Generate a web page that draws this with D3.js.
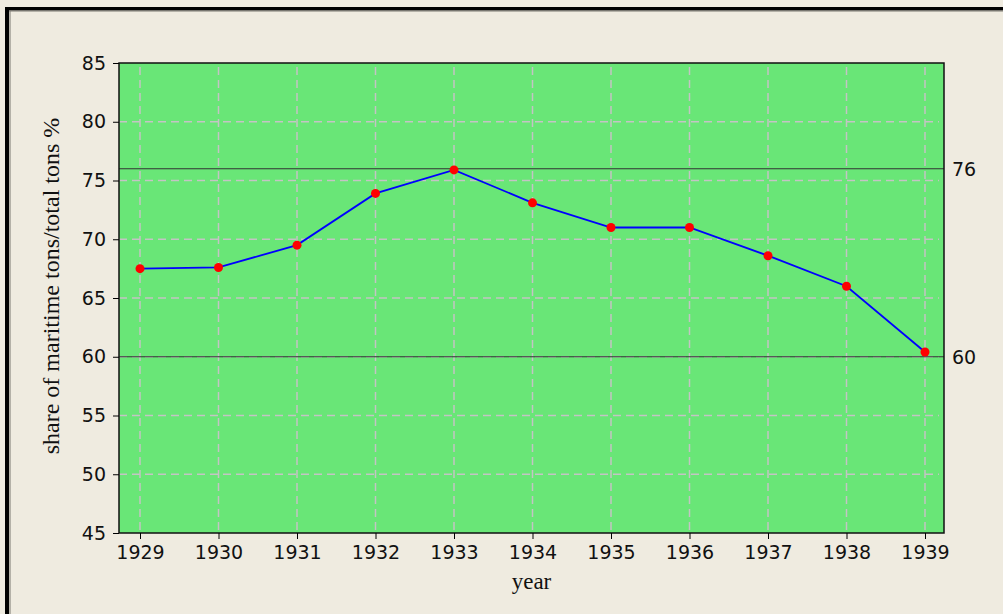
<!DOCTYPE html>
<html>
<head>
<meta charset="utf-8">
<script src="https://cdn.jsdelivr.net/npm/d3@7"></script>
<style>
  body { margin: 0; background: #efebe0; }
  .tick text { font-family: "DejaVu Sans", Verdana, sans-serif; }
</style>
</head>
<body>
<div class="container"></div>
<script>
// data
let years = [1929, 1930, 1931, 1932, 1933, 1934, 1935, 1936, 1937, 1938, 1939]
let share = [67.5, 67.6, 69.5, 73.9, 75.9, 73.1, 71.0, 71.0, 68.6, 66.0, 60.4]
let yTicks = [45, 50, 55, 60, 65, 70, 75, 80, 85]
let refLines = [76, 60]

let width = 1003, height = 614
let plotL = 119, plotR = 944, plotT = 63, plotB = 533

let svg = d3.select('.container')
    .append('svg')
    .attr('width', width)
    .attr('height', height)

svg.append('rect')
    .attr('width', width)
    .attr('height', height)
    .attr('fill', '#efebe0')

// frame: thick black on top and left
svg.append('rect').attr('x', 5).attr('y', 7).attr('width', width - 5).attr('height', 3.5).attr('fill', '#000')
svg.append('rect').attr('x', 5).attr('y', 7).attr('width', 4).attr('height', height - 7).attr('fill', '#000')
svg.append('line').attr('x1', 9).attr('x2', width).attr('y1', 11).attr('y2', 11).attr('stroke', '#7a7870').attr('stroke-width', 1)
svg.append('line').attr('x1', 10).attr('x2', 10).attr('y1', 11).attr('y2', height).attr('stroke', '#7a7870').attr('stroke-width', 1)

let x = d3.scaleLinear()
    .domain([1929, 1939])
    .range([140, 925])

let y = d3.scaleLinear()
    .domain([45, 85])
    .range([plotB, plotT])

svg.append('rect')
    .attr('x', plotL)
    .attr('y', plotT)
    .attr('width', plotR - plotL)
    .attr('height', plotB - plotT)
    .attr('fill', '#69e677')

// dashed grid
svg.append('g')
    .selectAll('line')
    .data(years)
    .enter().append('line')
    .attr('x1', d => x(d))
    .attr('x2', d => x(d))
    .attr('y1', plotT + 4)
    .attr('y2', plotB)
    .attr('stroke', '#c4c4c4')
    .attr('stroke-width', 1.5)
    .attr('stroke-dasharray', '8,5')

svg.append('g')
    .selectAll('line')
    .data(yTicks.slice(1, -1))
    .enter().append('line')
    .attr('x1', plotL)
    .attr('x2', plotR - 5)
    .attr('y1', d => y(d))
    .attr('y2', d => y(d))
    .attr('stroke', '#c4c4c4')
    .attr('stroke-width', 1.5)
    .attr('stroke-dasharray', '8,5')

// reference lines
svg.append('g')
    .selectAll('line')
    .data(refLines)
    .enter().append('line')
    .attr('x1', plotL)
    .attr('x2', plotR)
    .attr('y1', d => y(d))
    .attr('y2', d => y(d))
    .attr('stroke', '#333')
    .attr('stroke-width', 1.2)

svg.append('g')
    .selectAll('text')
    .data(refLines)
    .enter().append('text')
    .attr('x', plotR + 8)
    .attr('y', d => y(d))
    .attr('dy', '0.36em')
    .style('font-family', '"DejaVu Sans", Verdana, sans-serif')
    .style('font-size', '19px')
    .attr('fill', '#111')
    .text(d => d)

// plot border
svg.append('rect')
    .attr('x', plotL)
    .attr('y', plotT)
    .attr('width', plotR - plotL)
    .attr('height', plotB - plotT)
    .attr('fill', 'none')
    .attr('stroke', '#111')
    .attr('stroke-width', 1.5)

// axes
let xAxis = svg.append('g')
    .attr('transform', `translate(0,${plotB})`)
    .call(d3.axisBottom(x).tickValues(years).tickFormat(d3.format('d')).tickSize(6).tickSizeOuter(0))
xAxis.select('.domain').remove()
xAxis.selectAll('text').style('font-size', '19px').attr('dy', '0.92em').attr('fill', '#111')

let yAxis = svg.append('g')
    .attr('transform', `translate(${plotL},0)`)
    .call(d3.axisLeft(y).tickValues(yTicks).tickSize(6).tickSizeOuter(0))
yAxis.select('.domain').remove()
yAxis.selectAll('text').style('font-size', '19px').attr('x', -13).attr('fill', '#111')

// series
let lineGraph = d3.line()
    .x((d, i) => x(years[i]))
    .y(d => y(d))

svg.append('path')
    .attr('d', lineGraph(share))
    .attr('fill', 'none')
    .attr('stroke', '#0000ff')
    .attr('stroke-width', 1.8)

svg.append('g')
    .selectAll('circle')
    .data(share)
    .enter().append('circle')
    .attr('cx', (d, i) => x(years[i]))
    .attr('cy', d => y(d))
    .attr('r', 4.5)
    .attr('fill', '#ff0000')

// axis titles
svg.append('text')
    .attr('x', (plotL + plotR) / 2)
    .attr('y', 589)
    .attr('text-anchor', 'middle')
    .style('font-family', '"Liberation Serif", "Times New Roman", serif')
    .style('font-size', '23px')
    .attr('fill', '#111')
    .text('year')

svg.append('text')
    .attr('transform', `translate(59,${(plotT + plotB) / 2 - 12}) rotate(-90)`)
    .attr('text-anchor', 'middle')
    .style('font-family', '"Liberation Serif", "Times New Roman", serif')
    .style('font-size', '24px')
    .attr('fill', '#111')
    .text('share of maritime tons/total tons %')
</script>
</body>
</html>
